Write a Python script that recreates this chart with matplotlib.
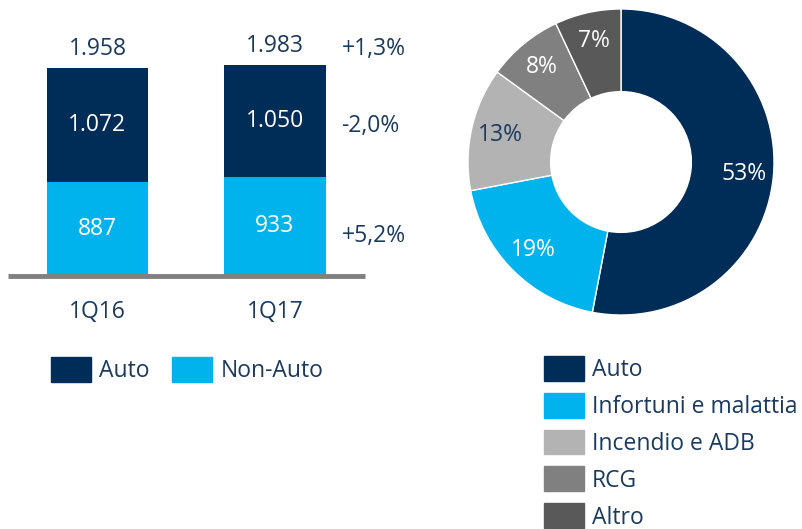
import matplotlib
matplotlib.use("Agg")
from matplotlib import pyplot as plt
from matplotlib.patches import Patch

plt.rcParams['font.family'] = ['Open Sans', 'DejaVu Sans']

# data
quarters = ['1Q16', '1Q17']
auto_vals = [1072, 1050]
non_auto_vals = [887, 933]
totals = ['1.958', '1.983']
auto_lbl = ['1.072', '1.050']
non_auto_lbl = ['887', '933']
changes = ['+1,3%', '-2,0%', '+5,2%']

mix_labels = ['Auto', 'Infortuni e malattia', 'Incendio e ADB', 'RCG', 'Altro']
mix_values = [53, 19, 13, 8, 7]

navy = '#002D57'
cyan = '#00B3EC'
txt = '#1B3A5E'
mix_colors = [navy, cyan, '#B3B3B3', '#808080', '#595959']
pct_colors = ['white', 'white', txt, 'white', 'white']

W, H = 803, 529
fig = plt.figure(figsize=(W / 100, H / 100), dpi=100)
fs = 16.5

# ---- stacked bars
ax = fig.add_axes([0, (H - 300) / H, 410 / W, 300 / H])
x = [0, 1]
ax.bar(x, non_auto_vals, width=0.57, color=cyan)
ax.bar(x, auto_vals, width=0.57, bottom=non_auto_vals, color=navy)
ax.set_xlim(-0.549, 1.761)
ax.set_ylim(-226, 2599)
ax.axis('off')
ax.plot([-0.504, 1.507], [0, 0], color='#808080', lw=3.5, solid_capstyle='butt')

for i in x:
    top = non_auto_vals[i] + auto_vals[i]
    ax.text(i, top + 70, totals[i], ha='center', va='bottom', fontsize=fs, color=txt)
    ax.text(i, non_auto_vals[i] + auto_vals[i] / 2, auto_lbl[i], ha='center', va='center',
            fontsize=fs, color='white')
    ax.text(i, non_auto_vals[i] / 2, non_auto_lbl[i], ha='center', va='center',
            fontsize=fs, color='white')
    ax.text(i, -340, quarters[i], ha='center', va='center', fontsize=fs, color=txt)

y_chg = [2140, 1410, 380]
for c, yy in zip(changes, y_chg):
    ax.text(1.375, yy, c, ha='left', va='center', fontsize=fs, color=txt)

fig.legend([Patch(color=navy), Patch(color=cyan)], ['Auto', 'Non-Auto'],
           loc='upper left', bbox_to_anchor=(30 / W, 1 - 336 / H), ncol=2,
           frameon=False, fontsize=fs, handlelength=1.75, handleheight=1.3,
           handletextpad=0.35, columnspacing=1.0, labelcolor=txt)

# ---- donut
ax2 = fig.add_axes([(621 - 160) / W, (H - 162 - 160) / H, 320 / W, 320 / H])
wedges, _, autotexts = ax2.pie(mix_values, colors=mix_colors, startangle=90, counterclock=False,
                               radius=1, autopct=lambda p: '%d%%' % round(p), pctdistance=0.81,
                               wedgeprops=dict(width=0.54, edgecolor='white', linewidth=1),
                               textprops=dict(fontsize=fs))
for t, c in zip(autotexts, pct_colors):
    t.set_color(c)
ax2.set_xlim(-1.0457, 1.0457)
ax2.set_ylim(-1.0457, 1.0457)
ax2.set_aspect('equal')

fig.legend([Patch(color=c) for c in mix_colors], mix_labels, loc='upper left',
           bbox_to_anchor=(523 / W, 1 - 335 / H), frameon=False, fontsize=fs,
           handlelength=1.75, handleheight=1.3, handletextpad=0.35, labelspacing=0.47,
           labelcolor=txt)

fig.savefig('out.png', dpi=100)
